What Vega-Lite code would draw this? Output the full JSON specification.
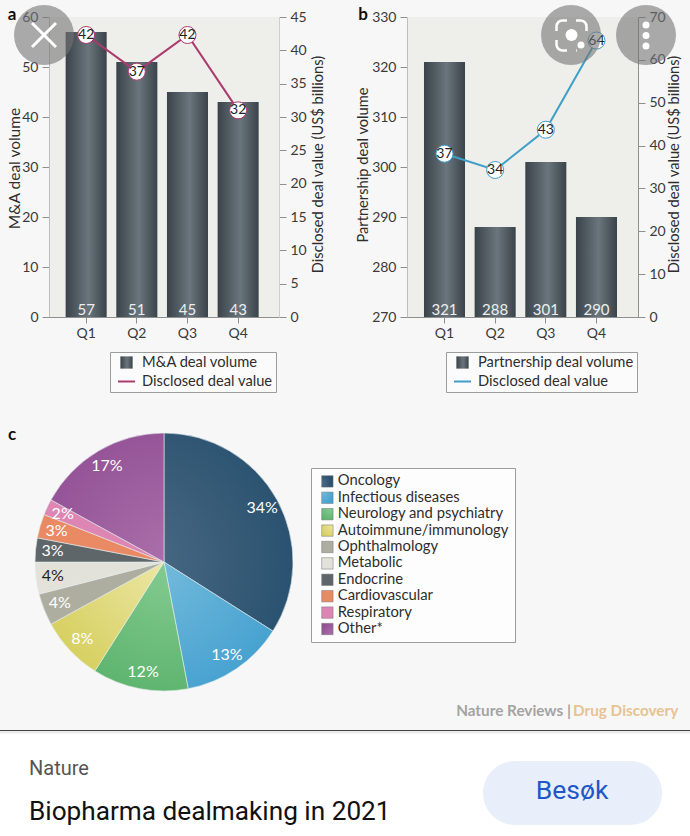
{
"$schema":"https://vega.github.io/schema/vega-lite/v6.json",
"width":690,"height":836,"autosize":{"type":"none"},"padding":0,"background":"#f7f7f7",
"config":{"view":{"stroke":null},"font":"Lato",
"axis":{"grid":false,"domainColor":"#8f8f8f","tickColor":"#8f8f8f","labelColor":"#3a3a3a","titleColor":"#2e2e2e","labelFont":"Lato","titleFont":"Lato","labelFontSize":14,"titleFontSize":14.7,"titleFontWeight":"normal","titleBaseline":"middle","tickSize":7,"labelPadding":4,"labelAngle":0},
"legend":{"labelFont":"Lato","labelFontSize":14.7,"labelColor":"#2e2e2e","labelLimit":400}},
"datasets":{
"a":[{"quarter":"Q1","series":"M&A deal volume","volume":57,"value":42.3,"label":"42"},{"quarter":"Q2","series":"M&A deal volume","volume":51,"value":36.8,"label":"37"},{"quarter":"Q3","series":"M&A deal volume","volume":45,"value":42.3,"label":"42"},{"quarter":"Q4","series":"M&A deal volume","volume":43,"value":31,"label":"32"}],
"b":[{"quarter":"Q1","series":"Partnership deal volume","volume":321,"value":38.1,"label":"37"},{"quarter":"Q2","series":"Partnership deal volume","volume":288,"value":34.3,"label":"34"},{"quarter":"Q3","series":"Partnership deal volume","volume":301,"value":43.7,"label":"43"},{"quarter":"Q4","series":"Partnership deal volume","volume":290,"value":64.5,"label":"64"}],
"c":[{"rank":1,"area":"Oncology","share":0.34},{"rank":2,"area":"Infectious diseases","share":0.13},{"rank":3,"area":"Neurology and psychiatry","share":0.12},{"rank":4,"area":"Autoimmune/immunology","share":0.08},{"rank":5,"area":"Ophthalmology","share":0.04},{"rank":6,"area":"Metabolic","share":0.04},{"rank":7,"area":"Endocrine","share":0.03},{"rank":8,"area":"Cardiovascular","share":0.03},{"rank":9,"area":"Respiratory","share":0.02},{"rank":10,"area":"Other*","share":0.17}]
},
"resolve":{"scale":{"x":"independent","y":"independent","color":"independent","theta":"independent"},"axis":{"x":"independent","y":"independent"},"legend":{"color":"independent"}},
"layer":[
{"data":{"values":[{}]},"mark":{"type":"rect","color":"#eeeeea"},"encoding":{"x":{"datum":"p","type":"nominal","scale":{"type":"band","domain":["p"],"range":[49.5,279],"paddingInner":0,"paddingOuter":0},"axis":null},"y":{"datum":"p","type":"nominal","scale":{"type":"band","domain":["p"],"range":[17,317],"paddingInner":0,"paddingOuter":0},"axis":null}}},
{"data":{"values":[{}]},"mark":{"type":"rect","color":"#eeeeea"},"encoding":{"x":{"datum":"p","type":"nominal","scale":{"type":"band","domain":["p"],"range":[407.5,638],"paddingInner":0,"paddingOuter":0},"axis":null},"y":{"datum":"p","type":"nominal","scale":{"type":"band","domain":["p"],"range":[17,317],"paddingInner":0,"paddingOuter":0},"axis":null}}},

{"data":{"name":"a"},"mark":{"type":"bar"},"encoding":{
"x":{"field":"quarter","type":"nominal","scale":{"type":"band","range":[49,279],"paddingInner":0.19,"paddingOuter":0.365,"align":0.45},"axis":{"orient":"bottom","offset":-519,"title":null,"labelPadding":3,"tickSize":6}},
"y":{"field":"volume","type":"quantitative","scale":{"domain":[0,60],"range":[317,17],"nice":false},"axis":{"orient":"left","offset":-49,"values":[0,10,20,30,40,50,60],"title":"M&A deal volume","titleFontSize":15.5,"titleX":-35,"titleY":168,"titleAngle":270}},
"color":{"field":"series","type":"nominal","scale":{"domain":["M&A deal volume","Disclosed deal value"],"range":[{"signal":"{gradient:'linear',x1:0,y1:0,x2:1,y2:0,stops:[{offset:0,color:'#3a4349'},{offset:0.55,color:'#6a757d'},{offset:1,color:'#3a4349'}]}"},"#ad3a6d"]},
"legend":{"orient":"none","legendX":110,"legendY":352,"title":null,"strokeColor":"#9c9c9c","fillColor":"#fbfbfb","padding":3,"symbolSize":170,"rowPadding":0,"symbolOffset":6,"labelOffset":8,"encode":{"symbols":{"update":{"shape":{"signal":"datum.value==='Disclosed deal value'?'stroke':'square'"},"size":{"signal":"datum.value==='Disclosed deal value'?289:150"},"stroke":{"signal":"datum.value==='Disclosed deal value'?'#ad3a6d':'transparent'"},"strokeWidth":{"value":2}}}}}}}},
{"data":{"name":"a"},"mark":{"type":"line","color":"#ad3a6d","strokeWidth":2},"encoding":{
"x":{"field":"quarter","type":"nominal","scale":{"type":"band","range":[49,279],"paddingInner":0.19,"paddingOuter":0.365,"align":0.45},"axis":null},
"y":{"field":"value","type":"quantitative","scale":{"domain":[0,45],"range":[317,17],"nice":false},"axis":{"orient":"right","offset":-411,"domainColor":"#cfcfca","values":[0,5,10,15,20,25,30,35,40,45],"title":"Disclosed deal value (US$ billions)","titleX":39,"titleY":164,"titleAngle":270}}}},
{"data":{"name":"a"},"mark":{"type":"circle","fill":"#ffffff","stroke":"#ad3a6d","strokeWidth":1,"size":290,"opacity":1},"encoding":{
"x":{"field":"quarter","type":"nominal","scale":{"type":"band","range":[49,279],"paddingInner":0.19,"paddingOuter":0.365,"align":0.45},"axis":null},
"y":{"field":"value","type":"quantitative","scale":{"domain":[0,45],"range":[317,17],"nice":false},"axis":null}}},
{"data":{"name":"a"},"mark":{"type":"text","font":"Lato","fontSize":14,"color":"#222222"},"encoding":{"text":{"field":"label"},
"x":{"field":"quarter","type":"nominal","scale":{"type":"band","range":[49,279],"paddingInner":0.19,"paddingOuter":0.365,"align":0.45},"axis":null},
"y":{"field":"value","type":"quantitative","scale":{"domain":[0,45],"range":[317,17],"nice":false},"axis":null}}},
{"data":{"name":"a"},"mark":{"type":"text","font":"Lato","fontSize":15,"color":"#eeeeee"},"encoding":{"text":{"field":"volume"},
"x":{"field":"quarter","type":"nominal","scale":{"type":"band","range":[49,279],"paddingInner":0.19,"paddingOuter":0.365,"align":0.45},"axis":null},
"y":{"datum":1.5,"type":"quantitative","scale":{"domain":[0,60],"range":[317,17],"nice":false},"axis":null}}},

{"data":{"name":"b"},"mark":{"type":"bar"},"encoding":{
"x":{"field":"quarter","type":"nominal","scale":{"type":"band","range":[407,638],"paddingInner":0.19,"paddingOuter":0.375,"align":0.447},"axis":{"orient":"bottom","offset":-519,"title":null,"labelPadding":3,"tickSize":6}},
"y":{"field":"volume","type":"quantitative","scale":{"domain":[270,330],"range":[317,17],"nice":false,"zero":false},"axis":{"orient":"left","offset":-407,"values":[270,280,290,300,310,320,330],"title":"Partnership deal volume","titleX":-44,"titleY":164.5,"titleAngle":270}},
"y2":{"datum":270},
"color":{"field":"series","type":"nominal","scale":{"domain":["Partnership deal volume","Disclosed deal value"],"range":[{"signal":"{gradient:'linear',x1:0,y1:0,x2:1,y2:0,stops:[{offset:0,color:'#3a4349'},{offset:0.55,color:'#6a757d'},{offset:1,color:'#3a4349'}]}"},"#3e9fc9"]},
"legend":{"orient":"none","legendX":446,"legendY":352,"title":null,"strokeColor":"#9c9c9c","fillColor":"#fbfbfb","padding":3,"symbolSize":170,"rowPadding":0,"symbolOffset":6,"labelOffset":8,"encode":{"symbols":{"update":{"shape":{"signal":"datum.value==='Disclosed deal value'?'stroke':'square'"},"size":{"signal":"datum.value==='Disclosed deal value'?289:150"},"stroke":{"signal":"datum.value==='Disclosed deal value'?'#3e9fc9':'transparent'"},"strokeWidth":{"value":2}}}}}}}},
{"data":{"name":"b"},"mark":{"type":"line","color":"#3e9fc9","strokeWidth":2},"encoding":{
"x":{"field":"quarter","type":"nominal","scale":{"type":"band","range":[407,638],"paddingInner":0.19,"paddingOuter":0.375,"align":0.447},"axis":null},
"y":{"field":"value","type":"quantitative","scale":{"domain":[0,70],"range":[317,17],"nice":false},"axis":{"orient":"right","offset":-52,"values":[0,10,20,30,40,50,60,70],"title":"Disclosed deal value (US$ billions)","titleX":36,"titleY":164,"titleAngle":270}}}},
{"data":{"name":"b"},"mark":{"type":"circle","fill":"#ffffff","stroke":"#3e9fc9","strokeWidth":1,"size":290,"opacity":1},"encoding":{
"x":{"field":"quarter","type":"nominal","scale":{"type":"band","range":[407,638],"paddingInner":0.19,"paddingOuter":0.375,"align":0.447},"axis":null},
"y":{"field":"value","type":"quantitative","scale":{"domain":[0,70],"range":[317,17],"nice":false},"axis":null}}},
{"data":{"name":"b"},"mark":{"type":"text","font":"Lato","fontSize":14,"color":"#222222"},"encoding":{"text":{"field":"label"},
"x":{"field":"quarter","type":"nominal","scale":{"type":"band","range":[407,638],"paddingInner":0.19,"paddingOuter":0.375,"align":0.447},"axis":null},
"y":{"field":"value","type":"quantitative","scale":{"domain":[0,70],"range":[317,17],"nice":false},"axis":null}}},
{"data":{"name":"b"},"mark":{"type":"text","font":"Lato","fontSize":15,"color":"#eeeeee"},"encoding":{"text":{"field":"volume"},
"x":{"field":"quarter","type":"nominal","scale":{"type":"band","range":[407,638],"paddingInner":0.19,"paddingOuter":0.375,"align":0.447},"axis":null},
"y":{"datum":271.5,"type":"quantitative","scale":{"domain":[270,330],"range":[317,17],"nice":false,"zero":false},"axis":null}}},

{"data":{"name":"c"},"mark":{"type":"arc","outerRadius":129,"stroke":"#e4ecef","strokeWidth":0.6},"encoding":{
"x":{"datum":"c","type":"nominal","scale":{"type":"point","domain":["c"],"range":[164,164]},"axis":null},
"y":{"datum":"c","type":"nominal","scale":{"type":"point","domain":["c"],"range":[562,562]},"axis":null},
"theta":{"field":"share","type":"quantitative","stack":true},"order":{"field":"rank"},
"color":{"field":"area","type":"nominal","sort":null,"scale":{"domain":["Oncology","Infectious diseases","Neurology and psychiatry","Autoimmune/immunology","Ophthalmology","Metabolic","Endocrine","Cardiovascular","Respiratory","Other*"],"range":[
{"signal":"{gradient:'radial',x1:0,y1:0.65,r1:0,x2:0,y2:0.65,r2:0.9,stops:[{offset:0,color:'#4d6b85'},{offset:1,color:'#27506e'}]}"},
{"signal":"{gradient:'radial',x1:0,y1:0,r1:0,x2:0,y2:0,r2:1.2,stops:[{offset:0,color:'#74bbdc'},{offset:1,color:'#429fcf'}]}"},
{"signal":"{gradient:'radial',x1:0.73,y1:0,r1:0,x2:0.73,y2:0,r2:1.1,stops:[{offset:0,color:'#85cb92'},{offset:1,color:'#5cb36c'}]}"},
{"signal":"{gradient:'radial',x1:1,y1:0,r1:0,x2:1,y2:0,r2:1.2,stops:[{offset:0,color:'#ece7a6'},{offset:1,color:'#d6cf5e'}]}"},
"#aeaea0","#e2e2da","#5f666a","#ea8a64","#dd86b4",
{"signal":"{gradient:'radial',x1:1,y1:1,r1:0,x2:1,y2:1,r2:1.3,stops:[{offset:0,color:'#ab70ab'},{offset:1,color:'#8f4d92'}]}"}]},
"legend":{"orient":"none","legendX":311,"legendY":468,"title":null,"strokeColor":"#9c9c9c","fillColor":"#fdfdfd","padding":6,"symbolType":"square","symbolSize":130,"rowPadding":0.4,"labelFontSize":14.8,"symbolOffset":3,"labelOffset":3,"symbolStrokeColor":"#777777","symbolStrokeWidth":0.5}}}},
{"data":{"name":"c"},"mark":{"type":"text","radius":112,"font":"Lato","fontSize":16},"encoding":{
"x":{"datum":"c","type":"nominal","scale":{"type":"point","domain":["c"],"range":[164,164]},"axis":null},
"y":{"datum":"c","type":"nominal","scale":{"type":"point","domain":["c"],"range":[562,562]},"axis":null},
"theta":{"field":"share","type":"quantitative","stack":true},"order":{"field":"rank"},"detail":{"field":"area"},
"text":{"field":"share","type":"quantitative","format":".0%"},
"color":{"condition":{"test":"datum.area==='Metabolic'","value":"#222222"},"value":"#ffffff"}}},

{"data":{"values":[{"panel":"a"},{"panel":"b"}]},"mark":{"type":"text","font":"Lato","fontWeight":"bold","fontSize":17,"color":"#111111"},"encoding":{"text":{"field":"panel"},
"x":{"field":"panel","type":"nominal","scale":{"type":"point","domain":["a","b"],"range":[12,363],"padding":0},"axis":null},
"y":{"datum":"p","type":"nominal","scale":{"type":"point","domain":["p"],"range":[15,15]},"axis":null}}},
{"data":{"values":[{"panel":"c"}]},"mark":{"type":"text","font":"Lato","fontWeight":"bold","fontSize":17,"color":"#111111"},"encoding":{"text":{"field":"panel"},
"x":{"datum":"p","type":"nominal","scale":{"type":"point","domain":["p"],"range":[12,12]},"axis":null},
"y":{"datum":"p","type":"nominal","scale":{"type":"point","domain":["p"],"range":[435,435]},"axis":null}}},

{"data":{"values":[{"text":"Nature Reviews |"}]},"mark":{"type":"text","font":"Lato","fontWeight":"bold","fontSize":15.3,"color":"#a3a3a3","align":"right"},"encoding":{"text":{"field":"text"},
"x":{"datum":"p","type":"nominal","scale":{"type":"point","domain":["p"],"range":[571,571]},"axis":null},
"y":{"datum":"p","type":"nominal","scale":{"type":"point","domain":["p"],"range":[711,711]},"axis":null}}},
{"data":{"values":[{"text":"Drug Discovery"}]},"mark":{"type":"text","font":"Lato","fontWeight":"bold","fontSize":15.3,"color":"#e6c392","align":"left"},"encoding":{"text":{"field":"text"},
"x":{"datum":"p","type":"nominal","scale":{"type":"point","domain":["p"],"range":[573,573]},"axis":null},
"y":{"datum":"p","type":"nominal","scale":{"type":"point","domain":["p"],"range":[711,711]},"axis":null}}},

{"data":{"values":[{}]},"mark":{"type":"rect","color":"#ffffff"},"encoding":{"x":{"datum":"p","type":"nominal","scale":{"type":"band","domain":["p"],"range":[0,690],"paddingInner":0,"paddingOuter":0},"axis":null},"y":{"datum":"p","type":"nominal","scale":{"type":"band","domain":["p"],"range":[730,836],"paddingInner":0,"paddingOuter":0},"axis":null}}},
{"data":{"values":[{}]},"mark":{"type":"rule","color":"#ebebeb","strokeWidth":3},"encoding":{"y":{"datum":"p","type":"nominal","scale":{"type":"point","domain":["p"],"range":[732,732]},"axis":null}}},
{"data":{"values":[{}]},"mark":{"type":"rule","color":"#444444","strokeWidth":1},"encoding":{"y":{"datum":"p","type":"nominal","scale":{"type":"point","domain":["p"],"range":[730.5,730.5]},"axis":null}}},
{"data":{"values":[{"text":"Nature"}]},"mark":{"type":"text","font":"Roboto","fontSize":20,"color":"#555555","align":"left"},"encoding":{"text":{"field":"text"},
"x":{"datum":"p","type":"nominal","scale":{"type":"point","domain":["p"],"range":[29,29]},"axis":null},
"y":{"datum":"p","type":"nominal","scale":{"type":"point","domain":["p"],"range":[769,769]},"axis":null}}},
{"data":{"values":[{"text":"Biopharma dealmaking in 2021"}]},"mark":{"type":"text","font":"Roboto","fontSize":26.2,"color":"#111111","align":"left"},"encoding":{"text":{"field":"text"},
"x":{"datum":"p","type":"nominal","scale":{"type":"point","domain":["p"],"range":[29,29]},"axis":null},
"y":{"datum":"p","type":"nominal","scale":{"type":"point","domain":["p"],"range":[812,812]},"axis":null}}},
{"data":{"values":[{}]},"mark":{"type":"rect","color":"#e8effb","cornerRadius":32},"encoding":{"x":{"datum":"p","type":"nominal","scale":{"type":"band","domain":["p"],"range":[483,662],"paddingInner":0,"paddingOuter":0},"axis":null},"y":{"datum":"p","type":"nominal","scale":{"type":"band","domain":["p"],"range":[761,825],"paddingInner":0,"paddingOuter":0},"axis":null}}},
{"data":{"values":[{"text":"Besøk"}]},"mark":{"type":"text","font":"Roboto","fontSize":26.5,"color":"#1f57c9"},"encoding":{"text":{"field":"text"},
"x":{"datum":"p","type":"nominal","scale":{"type":"point","domain":["p"],"range":[572,572]},"axis":null},
"y":{"datum":"p","type":"nominal","scale":{"type":"point","domain":["p"],"range":[791,791]},"axis":null}}},

{"data":{"values":[{}]},"mark":{"type":"circle","color":"#757575","opacity":0.6,"size":3600},"encoding":{
"x":{"datum":"p","type":"nominal","scale":{"type":"point","domain":["p"],"range":[44,44]},"axis":null},
"y":{"datum":"p","type":"nominal","scale":{"type":"point","domain":["p"],"range":[35,35]},"axis":null}}},
{"data":{"values":[{}]},"mark":{"type":"circle","color":"#757575","opacity":0.6,"size":3600},"encoding":{
"x":{"datum":"p","type":"nominal","scale":{"type":"point","domain":["p"],"range":[571,571]},"axis":null},
"y":{"datum":"p","type":"nominal","scale":{"type":"point","domain":["p"],"range":[35,35]},"axis":null}}},
{"data":{"values":[{}]},"mark":{"type":"circle","color":"#757575","opacity":0.6,"size":3600},"encoding":{
"x":{"datum":"p","type":"nominal","scale":{"type":"point","domain":["p"],"range":[646,646]},"axis":null},
"y":{"datum":"p","type":"nominal","scale":{"type":"point","domain":["p"],"range":[35,35]},"axis":null}}},
{"data":{"values":[{}]},"mark":{"type":"point","shape":"M-1,-1L1,1M-1,1L1,-1","stroke":"#ffffff","strokeWidth":3,"fill":null,"size":576,"opacity":1},"encoding":{
"x":{"datum":"p","type":"nominal","scale":{"type":"point","domain":["p"],"range":[44,44]},"axis":null},
"y":{"datum":"p","type":"nominal","scale":{"type":"point","domain":["p"],"range":[35,35]},"axis":null}}},
{"data":{"values":[{}]},"mark":{"type":"point","shape":"M-0.3,-1H-0.6A0.4,0.4,0,0,0,-1,-0.6V-0.3M0.3,-1H0.6A0.4,0.4,0,0,1,1,-0.6V-0.3M-1,0.3V0.6A0.4,0.4,0,0,0,-0.6,1H-0.3M0.3,1H0.35","stroke":"#ffffff","strokeWidth":2.5,"fill":null,"size":900,"opacity":1},"encoding":{
"x":{"datum":"p","type":"nominal","scale":{"type":"point","domain":["p"],"range":[571.5,571.5]},"axis":null},
"y":{"datum":"p","type":"nominal","scale":{"type":"point","domain":["p"],"range":[35.5,35.5]},"axis":null}}},
{"data":{"values":[{}]},"mark":{"type":"circle","color":"#ffffff","opacity":1,"size":144},"encoding":{
"x":{"datum":"p","type":"nominal","scale":{"type":"point","domain":["p"],"range":[571.5,571.5]},"axis":null},
"y":{"datum":"p","type":"nominal","scale":{"type":"point","domain":["p"],"range":[35,35]},"axis":null}}},
{"data":{"values":[{}]},"mark":{"type":"circle","color":"#ffffff","opacity":1,"size":49},"encoding":{
"x":{"datum":"p","type":"nominal","scale":{"type":"point","domain":["p"],"range":[581,581]},"axis":null},
"y":{"datum":"p","type":"nominal","scale":{"type":"point","domain":["p"],"range":[45,45]},"axis":null}}},
{"data":{"values":[{"dot":"top"},{"dot":"mid"},{"dot":"low"}]},"mark":{"type":"circle","color":"#ffffff","opacity":1,"size":49},"encoding":{
"x":{"datum":"p","type":"nominal","scale":{"type":"point","domain":["p"],"range":[646,646]},"axis":null},
"y":{"field":"dot","type":"nominal","scale":{"type":"point","domain":["top","mid","low"],"range":[25,46],"padding":0},"axis":null}}}
]
}
